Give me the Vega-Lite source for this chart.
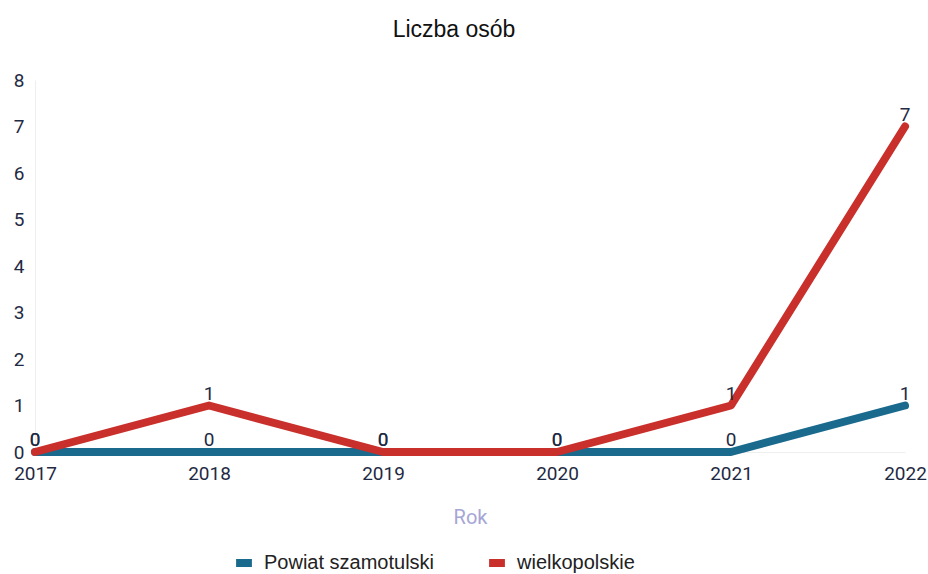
{
  "$schema": "https://vega.github.io/schema/vega-lite/v6.json",
  "autosize": {"type": "none"},
  "width": 870,
  "height": 372,
  "padding": {"left": 35, "top": 80, "right": 23, "bottom": 122},
  "background": "white",
  "config": {"view": {"stroke": null}, "font": "Roboto"},
  "title": {"text": "Liczba osób", "font": "Liberation Sans", "fontSize": 23, "fontWeight": "normal", "color": "#111111", "offset": 29, "anchor": "middle", "dx": -16},
  "data": {"values": [
    {"rok": "2017", "seria": "Powiat szamotulski", "wartosc": 0},
    {"rok": "2018", "seria": "Powiat szamotulski", "wartosc": 0},
    {"rok": "2019", "seria": "Powiat szamotulski", "wartosc": 0},
    {"rok": "2020", "seria": "Powiat szamotulski", "wartosc": 0},
    {"rok": "2021", "seria": "Powiat szamotulski", "wartosc": 0},
    {"rok": "2022", "seria": "Powiat szamotulski", "wartosc": 1},
    {"rok": "2017", "seria": "wielkopolskie", "wartosc": 0},
    {"rok": "2018", "seria": "wielkopolskie", "wartosc": 1},
    {"rok": "2019", "seria": "wielkopolskie", "wartosc": 0},
    {"rok": "2020", "seria": "wielkopolskie", "wartosc": 0},
    {"rok": "2021", "seria": "wielkopolskie", "wartosc": 1},
    {"rok": "2022", "seria": "wielkopolskie", "wartosc": 7}
  ]},
  "encoding": {
    "x": {"field": "rok", "type": "ordinal", "scale": {"type": "point", "padding": 0},
      "axis": {"title": "Rok", "titleColor": "#a6a6d6", "titleFontSize": 20, "titleFontWeight": "normal", "titlePadding": 24,
        "labelAngle": 0, "labelFontSize": 19, "labelColor": "#1f2a44", "labelPadding": 12, "ticks": false, "domain": true, "domainColor": "#eeeeee", "grid": false}},
    "y": {"field": "wartosc", "type": "quantitative", "scale": {"domain": [0, 8]},
      "axis": {"title": null, "values": [0,1,2,3,4,5,6,7,8], "labelOverlap": false, "labelFontSize": 19, "labelColor": "#1f2a44", "labelPadding": 11, "ticks": false, "domain": true, "domainColor": "#eeeeee", "grid": false}},
    "color": {"field": "seria", "type": "nominal",
      "scale": {"domain": ["Powiat szamotulski", "wielkopolskie"], "range": ["#1a6a8e", "#c9302c"]},
      "legend": {"title": null, "orient": "none", "legendX": 197, "legendY": 471, "direction": "horizontal", "labelFont": "Liberation Sans", "labelFontSize": 20, "labelLimit": 400, "labelColor": "#222222", "symbolType": "stroke", "symbolSize": 250, "symbolStrokeWidth": 8, "columnPadding": 38, "labelOffset": 8}}
  },
  "layer": [
    {"mark": {"type": "line", "strokeWidth": 8, "strokeCap": "round", "strokeJoin": "round"}},
    {"mark": {"type": "text", "dy": -12, "fontSize": 19, "fontWeight": "normal", "color": "#1f2a44"},
      "encoding": {"text": {"field": "wartosc", "type": "quantitative"}, "color": {"value": "#1f2a44"}}}
  ]
}
